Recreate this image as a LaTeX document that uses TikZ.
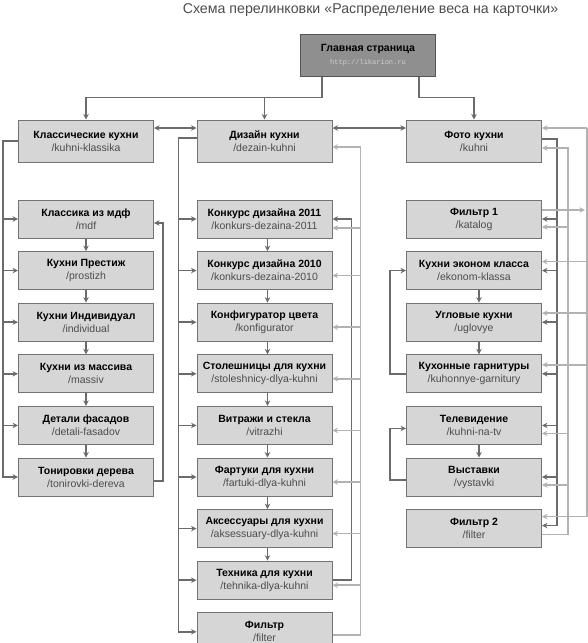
\documentclass[tikz,border=0pt]{standalone}
\usepackage{fontspec}
\setmainfont{Liberation Sans}
\setmonofont{Liberation Mono}
\usetikzlibrary{positioning,arrows.meta}
\definecolor{boxfill}{gray}{0.84}
\definecolor{boxline}{gray}{0.45}
\definecolor{homefill}{gray}{0.56}
\definecolor{homeline}{gray}{0.33}
\definecolor{linkdark}{gray}{0.42}
\definecolor{linklight}{gray}{0.7}
\definecolor{urlgray}{gray}{0.3}
\definecolor{urllight}{gray}{0.82}
\definecolor{titlegray}{gray}{0.3}
\newcommand{\pgtext}[2]{{\bfseries #1}\\{\color{urlgray}#2}}
\tikzset{>={Stealth[length=5.5pt,width=5.5pt]},
  page/.style={draw=boxline,fill=boxfill,line width=1pt,minimum width=135pt,
    minimum height=38pt,inner sep=1pt,align=center,font=\fontsize{10.5}{13}\selectfont},
  head/.style={page,minimum height=42pt},
  home/.style={head,fill=homefill,draw=homeline},
  dline/.style={draw=linkdark,line width=1.5pt},
  dlink/.style={dline,->},
  lline/.style={draw=linklight,line width=1.5pt},
  llink/.style={lline,->}}

\begin{document}
\begin{tikzpicture}[x=1pt,y=-1pt,node distance=12.6pt]
\useasboundingbox (0,0) rectangle (587,643);
\node[font=\fontsize{14.2}{16}\selectfont,text=titlegray] (title) at (370.5,10)
  {Схема перелинковки «Распределение веса на карточки»};
\node[home] (glav) at (368,55)
  {{\bfseries Главная страница}\\{\ttfamily\fontsize{7}{9}\selectfont\color{urllight}http://likarion.ru}};

% sections
\node[head] (klass) at (86,141) {\pgtext{Классические кухни}{/kuhni-klassika}};
\node[head,right=42.5pt of klass] (dizajn) {\pgtext{Дизайн кухни}{/dezain-kuhni}};
\node[head,right=73.5pt of dizajn] (foto) {\pgtext{Фото кухни}{/kuhni}};

% column 1
\node[page,below=37pt of klass] (mdf) {\pgtext{Классика из мдф}{/mdf}};
\node[page,below=of mdf] (prestizh) {\pgtext{Кухни Престиж}{/prostizh}};
\node[page,below=of prestizh] (individ) {\pgtext{Кухни Индивидуал}{/individual}};
\node[page,below=of individ] (massiv) {\pgtext{Кухни из массива}{/massiv}};
\node[page,below=of massiv] (detali) {\pgtext{Детали фасадов}{/detali-fasadov}};
\node[page,below=of detali] (tonir) {\pgtext{Тонировки дерева}{/tonirovki-dereva}};

% column 2
\node[page,below=37pt of dizajn] (k2011) {\pgtext{Конкурс дизайна 2011}{/konkurs-dezaina-2011}};
\node[page,below=of k2011] (k2010) {\pgtext{Конкурс дизайна 2010}{/konkurs-dezaina-2010}};
\node[page,below=of k2010] (konfig) {\pgtext{Конфигуратор цвета}{/konfigurator}};
\node[page,below=of konfig] (stol) {\pgtext{Столешницы для кухни}{/stoleshnicy-dlya-kuhni}};
\node[page,below=of stol] (vitr) {\pgtext{Витражи и стекла}{/vitrazhi}};
\node[page,below=of vitr] (fart) {\pgtext{Фартуки для кухни}{/fartuki-dlya-kuhni}};
\node[page,below=of fart] (aks) {\pgtext{Аксессуары для кухни}{/aksessuary-dlya-kuhni}};
\node[page,below=of aks] (tehn) {\pgtext{Техника для кухни}{/tehnika-dlya-kuhni}};
\node[page,below=of tehn] (filtr) {\pgtext{Фильтр}{/filter}};

% column 3
\node[page,below=37pt of foto] (filtr1) {\pgtext{Фильтр 1}{/katalog}};
\node[page,below=of filtr1] (ekonom) {\pgtext{Кухни эконом класса}{/ekonom-klassa}};
\node[page,below=of ekonom] (uglov) {\pgtext{Угловые кухни}{/uglovye}};
\node[page,below=of uglov] (garnit) {\pgtext{Кухонные гарнитуры}{/kuhonnye-garnitury}};
\node[page,below=of garnit] (tv) {\pgtext{Телевидение}{/kuhni-na-tv}};
\node[page,below=of tv] (vystav) {\pgtext{Выставки}{/vystavki}};
\node[page,below=of vystav] (filtr2) {\pgtext{Фильтр 2}{/filter}};

% home page to sections
\draw[dline] ([xshift=-46pt]glav.south) -- ++(0,21) coordinate (bus);
\draw[dlink] (bus) -| (klass.north);
\draw[dlink] (bus -| dizajn.north) -- (dizajn.north);
\draw[dlink] ([xshift=51pt]glav.south) -- ++(0,21) -| (foto.north);
\draw[dline,<->] ([yshift=13pt]klass.east) -- ([yshift=13pt]dizajn.west);
\draw[dline,<->] ([yshift=13pt]dizajn.east) -- ([yshift=13pt]foto.west);

% column 1 links
\draw[dlink] (klass.west) -- ++(-15,0) |- (tonir.west);
\foreach \n in {mdf,prestizh,individ,massiv,detali}
  \draw[dlink] ([xshift=-15pt]\n.west) -- (\n.west);
\foreach \a/\b in {mdf/prestizh,prestizh/individ,individ/massiv,massiv/detali,detali/tonir}
  \draw[dlink] (\a) -- (\b);
\draw[dlink] ([yshift=-4pt]tonir.east) -- ++(9,0) |- ([yshift=-4pt]mdf.east);

% column 2 links
\draw[dlink] ([yshift=3pt]dizajn.west) -- ++(-18,0) |- (filtr.west);
\foreach \n in {k2011,k2010,konfig,stol,vitr,fart,aks,tehn}
  \draw[dlink] ([xshift=-18pt]\n.west) -- (\n.west);
\foreach \a/\b in {k2011/k2010,k2010/konfig,konfig/stol,stol/vitr,vitr/fart,fart/aks,aks/tehn}
  \draw[dlink] ([xshift=3pt]\a.south) -- ([xshift=3pt]\b.north);
\draw[dlink] (tehn.east) -- ++(19,0) |- (k2011.east);
\draw[llink] ([yshift=-3pt]filtr.east) -- ++(28,0) |- ([yshift=-6pt]dizajn.east);
\draw[llink] ([xshift=28pt,yshift=-9pt]k2011.east) -- ([yshift=-9pt]k2011.east);
\foreach \n in {k2010,konfig,stol,vitr,fart,aks,tehn}
  \draw[llink] ([xshift=28pt,yshift=-5pt]\n.east) -- ([yshift=-5pt]\n.east);

% column 3 links
\draw[dlink] ([yshift=2pt]foto.east) -- ++(15,0) |- ([yshift=3pt]filtr2.east);
\foreach \n in {filtr1,ekonom,uglov,garnit,tv,vystav}
  \draw[dlink] ([xshift=15pt]\n.east) -- (\n.east);
\draw[llink] ([yshift=-6pt]filtr2.east) -- ++(26,0) |- ([yshift=-7pt]foto.east);
\foreach \n in {filtr1,tv,vystav}
  \draw[llink] ([xshift=26pt,yshift=-8pt]\n.east) -- ([yshift=-8pt]\n.east);
\draw[llink] ([xshift=45pt,yshift=13pt]foto.east) -- ([yshift=13pt]foto.east);
\draw[llink] ([xshift=45pt,yshift=13pt]foto.east) |- ([yshift=12pt]filtr2.east);
\foreach \n in {ekonom,uglov,garnit}
  \draw[llink] ([xshift=45pt,yshift=9pt]\n.east) -- ([yshift=9pt]\n.east);
\draw[llink] ([yshift=9pt]filtr1.east) -- ++(43,0);
\foreach \a/\b in {ekonom/uglov,uglov/garnit,tv/vystav}
  \draw[dlink] ([xshift=5pt]\a.south) -- ([xshift=5pt]\b.north);
\draw[dlink] (garnit.west) -- ++(-16,0) |- (ekonom.west);
\draw[dlink] ([yshift=-3pt]vystav.west) -- ++(-16,0) |- ([yshift=-3pt]tv.west);
\end{tikzpicture}
\end{document}
